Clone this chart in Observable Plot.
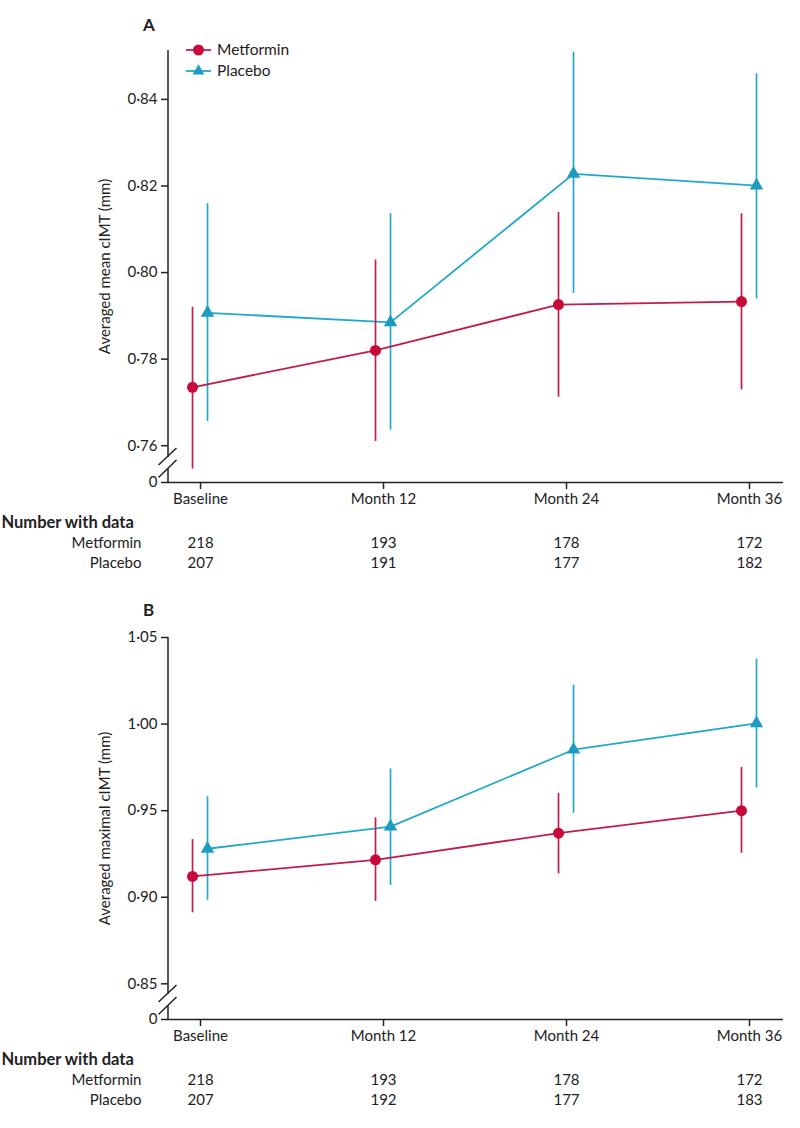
<!DOCTYPE html>
<html><head><meta charset="utf-8">
<script src="https://cdn.jsdelivr.net/npm/d3@7"></script>
<script src="https://cdn.jsdelivr.net/npm/@observablehq/plot@0.6"></script>
<style>
body{margin:0;background:#fff}
#wrap{position:relative;width:800px;height:1128px;font-family:Lato,sans-serif;color:#222;overflow:hidden}
.abs{position:absolute}
</style>
</head><body><div id="wrap"></div>
<script>
// ---- data ----
const months = [0, 12, 24, 36];
const monthLabels = ["Baseline", "Month 12", "Month 24", "Month 36"];
const seriesNames = ["Metformin", "Placebo"];

// Panel A: averaged mean cIMT (mm)
const aTicks = [0.76, 0.78, 0.80, 0.82, 0.84];
const aMetMean = [0.7735, 0.7820, 0.7926, 0.7933];
const aMetLow  = [0.7546, 0.7610, 0.7712, 0.7729];
const aMetHigh = [0.7920, 0.8029, 0.8139, 0.8136];
const aPlaMean = [0.7907, 0.7885, 0.8228, 0.8201];
const aPlaLow  = [0.7656, 0.7636, 0.7952, 0.7939];
const aPlaHigh = [0.8159, 0.8136, 0.8509, 0.8459];
const aMetN = [218, 193, 178, 172];
const aPlaN = [207, 191, 177, 182];

// Panel B: averaged maximal cIMT (mm)
const bTicks = [0.85, 0.90, 0.95, 1.00, 1.05];
const bMetMean = [0.9120, 0.9216, 0.9370, 0.9500];
const bMetLow  = [0.8910, 0.8976, 0.9135, 0.9254];
const bMetHigh = [0.9333, 0.9458, 0.9600, 0.9750];
const bPlaMean = [0.9280, 0.9408, 0.9852, 1.0004];
const bPlaLow  = [0.8982, 0.9068, 0.9485, 0.9631];
const bPlaHigh = [0.9581, 0.9741, 1.0225, 1.0375];
const bMetN = [218, 193, 178, 172];
const bPlaN = [207, 192, 177, 183];

// ---- style ----
const metLine = "#c11d4b", metDot = "#c8093a";
const plaLine = "#22a8cb", plaDot = "#1b9cc0";
const ink = "#222";
const FS = 15;

function breakAxis() {
  return (index, scales, values, dims) => {
    const x0 = dims.marginLeft, top = dims.marginTop, bot = dims.height - dims.marginBottom;
    const g = d3.create("svg:g").attr("stroke", ink).attr("stroke-width", 1.5).attr("fill", "none");
    g.append("line").attr("x1", x0).attr("x2", x0).attr("y1", top).attr("y2", bot - 25);
    g.append("line").attr("x1", x0).attr("x2", x0).attr("y1", bot - 13.5).attr("y2", bot);
    g.append("line").attr("x1", x0 - 9.5).attr("y1", bot - 17).attr("x2", x0 + 8.5).attr("y2", bot - 34);
    g.append("line").attr("x1", x0 - 9.5).attr("y1", bot - 4.5).attr("x2", x0 + 8.5).attr("y2", bot - 22);
    return g.node();
  };
}

function panel(cfg) {
  const rows = months.map((m, i) => ({
    month: m,
    metMean: cfg.metMean[i], metLow: cfg.metLow[i], metHigh: cfg.metHigh[i],
    plaMean: cfg.plaMean[i], plaLow: cfg.plaLow[i], plaHigh: cfg.plaHigh[i],
    metN: cfg.metN[i], plaN: cfg.plaN[i]
  }));
  const fmt = v => v === cfg.breakVal ? "0" : d3.format(".2f")(v).replace(".", "\u00b7");
  return Plot.plot({
    width: 800, height: cfg.height,
    marginLeft: 168, marginRight: 17, marginTop: cfg.marginTop, marginBottom: cfg.marginBottom,
    style: {fontFamily: "Lato, sans-serif", fontSize: FS + "px", color: ink, background: "white", overflow: "visible"},
    x: {domain: [-2.1, 38.23]},
    y: {domain: [cfg.breakVal, cfg.top]},
    marks: [
      Plot.ruleY([cfg.breakVal], {stroke: ink, strokeWidth: 1.5}),
      breakAxis(),
      Plot.axisY([...cfg.ticks, cfg.breakVal], {tickFormat: fmt, tickSize: 7, tickPadding: 4, label: null, stroke: ink, strokeWidth: 1.5, fontSize: FS}),
      Plot.axisX(months, {tickFormat: d => monthLabels[months.indexOf(d)], tickSize: 7, tickPadding: 4, label: null, stroke: ink, strokeWidth: 1.5, fontSize: FS}),
      Plot.text([cfg.ylabel], {frameAnchor: "left", textAnchor: "middle", rotate: -90, dx: -63, fontSize: FS}),
      // Placebo
      Plot.ruleX(rows, {x: "month", y1: "plaLow", y2: "plaHigh", stroke: plaLine, strokeWidth: 1.7, dx: 7}),
      Plot.line(rows, {x: "month", y: "plaMean", stroke: plaLine, strokeWidth: 1.8, dx: 7}),
      Plot.dot(rows, {x: "month", y: "plaMean", symbol: "triangle", fill: plaDot, r: 5, dx: 7}),
      // Metformin
      Plot.ruleX(rows, {x: "month", y1: "metLow", y2: "metHigh", stroke: metLine, strokeWidth: 1.7, dx: -8}),
      Plot.line(rows, {x: "month", y: "metMean", stroke: metLine, strokeWidth: 1.8, dx: -8}),
      Plot.dot(rows, {x: "month", y: "metMean", fill: metDot, r: 5.5, dx: -8}),
      // table
      Plot.text(["Number with data"], {frameAnchor: "bottom-left", dx: -167, dy: 45, textAnchor: "start", fontWeight: "bold", fontSize: 16.5}),
      Plot.text([seriesNames[0]], {frameAnchor: "bottom-left", dx: -27, dy: 65, textAnchor: "end", fontSize: FS}),
      Plot.text([seriesNames[1]], {frameAnchor: "bottom-left", dx: -27, dy: 85, textAnchor: "end", fontSize: FS}),
      Plot.text(rows, {x: "month", text: "metN", frameAnchor: "bottom", dy: 65, fontSize: FS}),
      Plot.text(rows, {x: "month", text: "plaN", frameAnchor: "bottom", dy: 85, fontSize: FS})
    ]
  });
}

const wrap = document.getElementById("wrap");

function place(node, top) {
  const d = document.createElement("div");
  d.className = "abs"; d.style.left = "0px"; d.style.top = top + "px";
  d.appendChild(node); wrap.appendChild(d);
}

place(panel({
  height: 585, marginTop: 50, marginBottom: 103,
  breakVal: 0.7515, top: 0.8513, ticks: aTicks,
  ylabel: "Averaged mean cIMT (mm)",
  metMean: aMetMean, metLow: aMetLow, metHigh: aMetHigh,
  plaMean: aPlaMean, plaLow: aPlaLow, plaHigh: aPlaHigh,
  metN: aMetN, plaN: aPlaN
}), 0);

place(panel({
  height: 543, marginTop: 52, marginBottom: 109,
  breakVal: 0.8294, top: 1.05, ticks: bTicks,
  ylabel: "Averaged maximal cIMT (mm)",
  metMean: bMetMean, metLow: bMetLow, metHigh: bMetHigh,
  plaMean: bPlaMean, plaLow: bPlaLow, plaHigh: bPlaHigh,
  metN: bMetN, plaN: bPlaN
}), 585);

// panel letters
function label(txt, left, top) {
  const d = document.createElement("div");
  d.className = "abs"; d.textContent = txt;
  d.style.cssText += `left:${left}px;top:${top}px;font-weight:bold;font-size:17px;line-height:1`;
  wrap.appendChild(d);
}
label("A", 143, 16);
label("B", 143, 601);

// legend
const leg = d3.select(wrap).append("svg").attr("class", "abs")
  .style("left", "180px").style("top", "36px").attr("width", 140).attr("height", 50);
const legItems = [
  {name: seriesNames[0], line: metLine, fill: metDot, sym: d3.symbolCircle, size: 95},
  {name: seriesNames[1], line: plaLine, fill: plaDot, sym: d3.symbolTriangle, size: 60}
];
legItems.forEach((it, i) => {
  const cy = 14 + i * 21;
  leg.append("line").attr("x1", 6).attr("x2", 31).attr("y1", cy).attr("y2", cy).attr("stroke", it.line).attr("stroke-width", 1.8);
  leg.append("path").attr("d", d3.symbol(it.sym, it.size)()).attr("transform", `translate(18.5,${cy})`).attr("fill", it.fill);
  leg.append("text").attr("x", 37).attr("y", cy).attr("dy", "0.35em").attr("font-family", "Lato, sans-serif").attr("font-size", 15.5).attr("fill", ink).text(it.name);
});
</script>
</body></html>
